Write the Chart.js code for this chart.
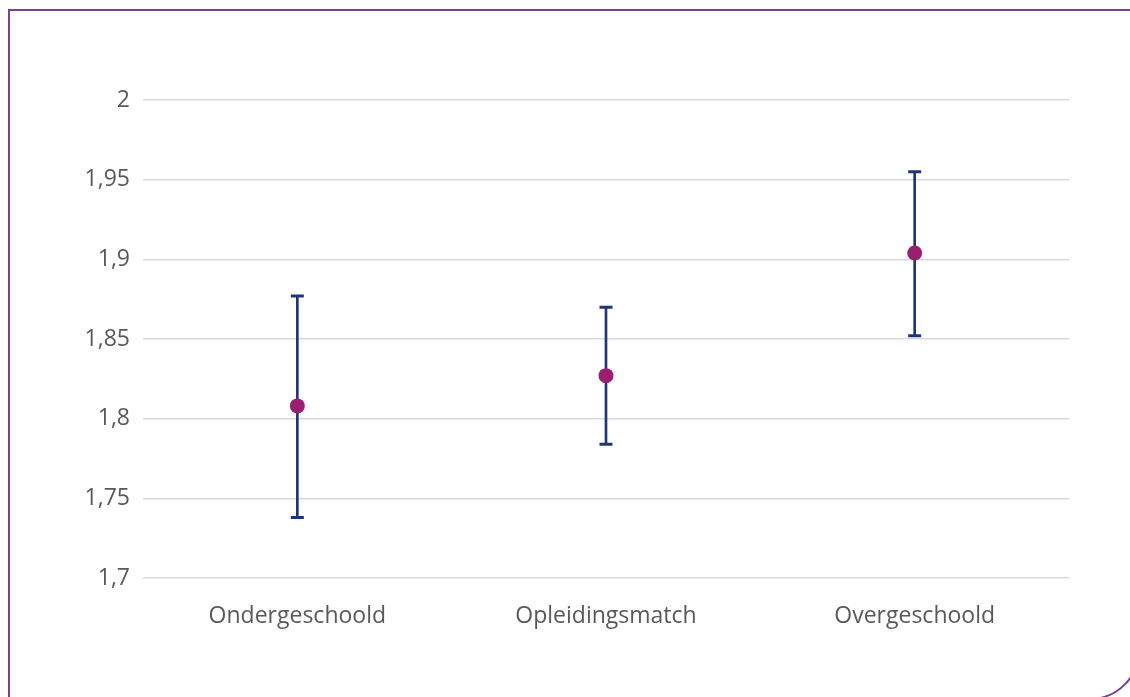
<!DOCTYPE html>
<html><head><meta charset="utf-8">
<script src="https://cdn.jsdelivr.net/npm/chart.js@4"></script>
<style>
html,body{margin:0;padding:0;background:#fff;overflow:hidden;}
#frame{position:absolute;left:8px;top:9px;width:1132px;height:691px;box-sizing:border-box;border:2px solid #7a3f9d;border-bottom-right-radius:50px;}
#wrap{position:absolute;left:0;top:0;width:1130px;height:697px;}
</style></head>
<body>
<div id="frame"></div>
<div id="wrap"><canvas id="c" width="1130" height="697"></canvas></div>
<script>
const categories = ["Ondergeschoold", "Opleidingsmatch", "Overgeschoold"];
const means = [1.808, 1.827, 1.904];
const lower = [1.738, 1.784, 1.852];
const upper = [1.877, 1.870, 1.955];
const yTicks = [1.7, 1.75, 1.8, 1.85, 1.9, 1.95, 2];

const navy = "#1f347f";
const magenta = "#9c1f6f";
const font = {family: "'Open Sans', sans-serif", size: 23};

new Chart(document.getElementById('c'), {
  type: 'bar',
  data: {
    labels: categories,
    datasets: [
      {type: 'line', data: means, showLine: false, pointRadius: 7.5, pointHoverRadius: 7.5,
       pointBackgroundColor: magenta, pointBorderColor: magenta, pointBorderWidth: 0, order: 0},
      {type: 'line', data: upper, showLine: false, pointStyle: 'line', pointRadius: 6.5, pointHoverRadius: 6.5,
       pointBorderColor: navy, pointBorderWidth: 3, order: 1},
      {type: 'line', data: lower, showLine: false, pointStyle: 'line', pointRadius: 6.5, pointHoverRadius: 6.5,
       pointBorderColor: navy, pointBorderWidth: 3, order: 1},
      {type: 'bar', data: categories.map((c, i) => [lower[i], upper[i]]), backgroundColor: navy,
       barThickness: 2, borderWidth: 0, grouped: false, order: 2}
    ]
  },
  options: {
    responsive: false,
    animation: false,
    events: [],
    layout: {padding: {left: 0, right: 61, top: 100, bottom: 0}},
    plugins: {legend: {display: false}, tooltip: {enabled: false}},
    scales: {
      x: {
        offset: true,
        grid: {display: false, drawTicks: false},
        border: {display: false},
        ticks: {color: '#595959', font: font, padding: 25},
        afterFit: s => { s.height = 119; }
      },
      y: {
        min: 1.7, max: 2,
        afterBuildTicks: s => { s.ticks = yTicks.map(v => ({value: v})); },
        ticks: {color: '#595959', font: font, padding: 13,
                callback: v => String(Math.round(v * 100) / 100).replace('.', ',')},
        grid: {color: '#d9d9d9', lineWidth: 1.5, drawTicks: false},
        border: {display: false},
        afterFit: s => { s.width = 143; }
      }
    }
  }
});
</script>
</body></html>
